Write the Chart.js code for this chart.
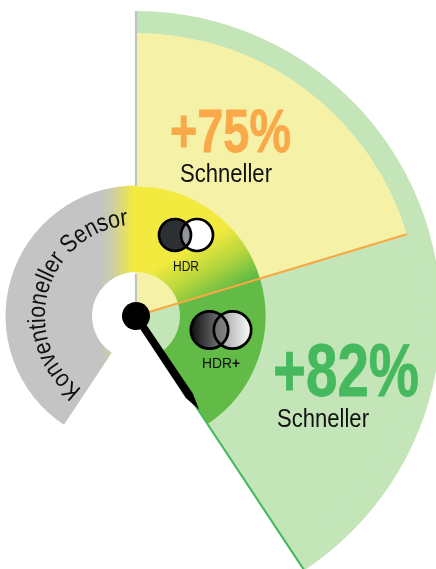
<!DOCTYPE html>
<html lang="de">
<head>
<meta charset="utf-8">
<title>HDR+ Sensor</title>
<script src="https://cdn.jsdelivr.net/npm/chart.js"></script>
<style>
  html, body { margin: 0; padding: 0; background: #fff; }
  #wrap { position: relative; width: 436px; height: 569px; overflow: hidden; }
  #gauge { position: absolute; left: -169px; top: 11px; }
  #labels { position: absolute; left: 0; top: 0; }
  #labels text { font-family: "Liberation Sans", Arial, sans-serif; fill: #111; }
</style>
</head>
<body>
<div id="wrap">
  <canvas id="gauge" width="610" height="610"></canvas>
  <svg id="labels" width="436" height="569" viewBox="0 0 436 569">
    <defs>
      <linearGradient id="darkFill"><stop offset="0" stop-color="#0d0d0e"/><stop offset="1" stop-color="#8f9193"/></linearGradient>
      <linearGradient id="lightFill"><stop offset="0" stop-color="#8f9193"/><stop offset="1" stop-color="#fbfbfb"/></linearGradient>
      <linearGradient id="midFill"><stop offset="0" stop-color="#6d6f71"/><stop offset="1" stop-color="#a7a9ab"/></linearGradient>
      <clipPath id="hdrClip"><circle cx="175" cy="235" r="16"/></clipPath>
      <clipPath id="hdrPlusClip"><circle cx="209.5" cy="330" r="18.7"/></clipPath>
      <path id="arcPath" fill="none"/>
    </defs>

    <!-- HDR -->
    <circle cx="175" cy="235" r="16" fill="#2d3032"/>
    <circle cx="197" cy="235" r="16" fill="#fff"/>
    <circle cx="197" cy="235" r="16" fill="#939598" clip-path="url(#hdrClip)"/>
    <circle cx="175" cy="235" r="16" fill="none" stroke="#000" stroke-width="2.7"/>
    <circle cx="197" cy="235" r="16" fill="none" stroke="#000" stroke-width="2.7"/>

    <!-- HDR+ -->
    <circle cx="209.5" cy="330" r="18.7" fill="url(#darkFill)"/>
    <circle cx="232.5" cy="330" r="18.7" fill="url(#lightFill)"/>
    <circle cx="232.5" cy="330" r="18.7" fill="url(#midFill)" clip-path="url(#hdrPlusClip)"/>
    <circle cx="209.5" cy="330" r="18.7" fill="none" stroke="#000" stroke-width="2.7"/>
    <circle cx="232.5" cy="330" r="18.7" fill="none" stroke="#000" stroke-width="2.7"/>

    <text id="gainA" x="170" y="152" font-size="61" font-weight="700" textLength="121" lengthAdjust="spacingAndGlyphs" style="fill:#f9a94a;stroke:#f9a94a;stroke-width:.8"></text>
    <text id="unitA" x="180" y="182" font-size="25" textLength="92" lengthAdjust="spacingAndGlyphs"></text>
    <text id="gainB" x="273" y="396" font-size="74" font-weight="700" textLength="146" lengthAdjust="spacingAndGlyphs" style="fill:#46b95f;stroke:#46b95f;stroke-width:.9"></text>
    <text id="unitB" x="277" y="427" font-size="25" textLength="92" lengthAdjust="spacingAndGlyphs"></text>
    <text id="hdrA" x="173" y="271" font-size="15" textLength="26" lengthAdjust="spacingAndGlyphs"></text>
    <text x="202" y="368" font-size="15" textLength="38" lengthAdjust="spacingAndGlyphs"><tspan id="hdrB"></tspan><tspan id="hdrPlus" font-weight="700"></tspan></text>
    <text font-size="25"><textPath id="sensorText" href="#arcPath" textLength="220" lengthAdjust="spacingAndGlyphs"></textPath></text>
  </svg>
</div>

<script>
// sweep of each zone in degrees, clockwise from 12 o'clock
const sweepYellow = [73.2];
const sweepGreen = [73.3];
const sweepGap = [67];
const sweepSensor = [146.5];
const sweepRest = [213.5];

// ring thickness, outer to inner (chart radius comes out 304, border adds 1)
const ringWeights = [20, 153.5, 86.5, 44];

const gains = ['+75%', '+82%'];
const unitLabel = 'Schneller';
const hdrLabels = ['HDR', 'HDR', '+'];
const sensorLabel = 'Konventioneller Sensor';

const NONE = 'rgba(0,0,0,0)';
const PALE_GREEN = '#c3e5b8';
const PALE_YELLOW = '#f5f2a8';
const GREEN = '#61bb46';
const YELLOW = '#f2ea3e';
const GRAY = '#c3c4c3';

const yellowEnd = sweepYellow[0];
const fanEnd = yellowEnd + sweepGreen[0];

function polar(c, r, deg) {
  const a = deg * Math.PI / 180;
  return {x: c.x + r * Math.sin(a), y: c.y - r * Math.cos(a)};
}

// yellow fades into green across a line through the hub
function yellowFill(chart) {
  const c = {x: chart.width / 2, y: chart.height / 2};
  const from = polar(c, 32, -30);
  const to = polar(c, 25, 150);
  const g = chart.ctx.createLinearGradient(from.x, from.y, to.x, to.y);
  g.addColorStop(0, YELLOW);
  g.addColorStop(0.5, '#b7d63c');
  g.addColorStop(1, GREEN);
  return g;
}

// gray turns yellow just before the top
function sensorFill(chart) {
  const cx = chart.width / 2;
  const g = chart.ctx.createLinearGradient(cx - 36, 0, cx - 2, 0);
  g.addColorStop(0, GRAY);
  g.addColorStop(0.35, '#cdcda8');
  g.addColorStop(1, YELLOW);
  return g;
}

const gaugeFills = [yellowFill, () => GREEN, () => NONE, sensorFill];

function gaugeColor(ctx) {
  return gaugeFills[ctx.dataIndex](ctx.chart);
}

function line(c, color, width, r0, r1, deg) {
  const ctx = c.ctx;
  const a = polar(c, r0, deg);
  const b = polar(c, r1, deg);
  ctx.strokeStyle = color;
  ctx.lineWidth = width;
  ctx.beginPath();
  ctx.moveTo(a.x, a.y);
  ctx.lineTo(b.x, b.y);
  ctx.stroke();
}

const overlay = {
  id: 'overlay',
  afterDatasetsDraw(chart) {
    const ctx = chart.ctx;
    const c = {ctx: ctx, x: chart.width / 2, y: chart.height / 2};
    ctx.save();
    line(c, '#c2c3c3', 2.2, 0, 42, 0);
    line(c, '#c2c3c3', 2.2, 130, 305, 0);
    line(c, '#f9a93f', 2, 0, 283, yellowEnd);
    line(c, '#46b95f', 2, 0, 305, fanEnd);

    // needle, tapered at the tip
    ctx.translate(c.x, c.y);
    ctx.rotate(fanEnd * Math.PI / 180);
    ctx.fillStyle = '#000';
    ctx.beginPath();
    ctx.moveTo(-3.7, 0);
    ctx.lineTo(3.7, 0);
    ctx.lineTo(3.7, -96);
    ctx.lineTo(-1, -113);
    ctx.lineTo(-4.6, -96);
    ctx.closePath();
    ctx.fill();
    ctx.beginPath();
    ctx.arc(0, 0, 14, 0, Math.PI * 2);
    ctx.fill();
    ctx.restore();
  }
};

new Chart(document.getElementById('gauge'), {
  type: 'doughnut',
  data: {
    datasets: [
      {
        weight: ringWeights[0],
        data: [fanEnd, sweepRest[0]],
        backgroundColor: [PALE_GREEN, NONE],
        borderColor: [PALE_GREEN, NONE]
      },
      {
        weight: ringWeights[1],
        data: [sweepYellow[0], sweepGreen[0], sweepRest[0]],
        backgroundColor: [PALE_YELLOW, PALE_GREEN, NONE],
        borderColor: [PALE_YELLOW, PALE_GREEN, NONE]
      },
      {
        weight: ringWeights[2],
        data: [sweepYellow[0], sweepGreen[0], sweepGap[0], sweepSensor[0]],
        backgroundColor: gaugeColor,
        borderWidth: 0
      },
      {
        weight: ringWeights[3],
        data: [sweepYellow[0], sweepGreen[0], sweepRest[0]],
        backgroundColor: [PALE_YELLOW, PALE_GREEN, NONE],
        borderColor: [PALE_YELLOW, PALE_GREEN, NONE]
      }
    ]
  },
  options: {
    responsive: false,
    animation: false,
    cutout: 0,
    rotation: 0,
    elements: {arc: {borderWidth: 2}},
    plugins: {legend: {display: false}, tooltip: {enabled: false}}
  },
  plugins: [overlay]
});

document.getElementById('gainA').textContent = gains[0];
document.getElementById('gainB').textContent = gains[1];
document.getElementById('unitA').textContent = unitLabel;
document.getElementById('unitB').textContent = unitLabel;
document.getElementById('hdrA').textContent = hdrLabels[0];
document.getElementById('hdrB').textContent = hdrLabels[1];
document.getElementById('hdrPlus').textContent = hdrLabels[2];

// text baseline follows an arc inside the gray band
const hub = {x: 136, y: 316};
const arcStart = polar(hub, 91, 216.5);
const arcEnd = polar(hub, 91, 355);
document.getElementById('arcPath').setAttribute('d',
    'M' + arcStart.x + ' ' + arcStart.y + ' A91 91 0 0 1 ' + arcEnd.x + ' ' + arcEnd.y);
document.getElementById('sensorText').textContent = sensorLabel;
</script>
</body>
</html>
